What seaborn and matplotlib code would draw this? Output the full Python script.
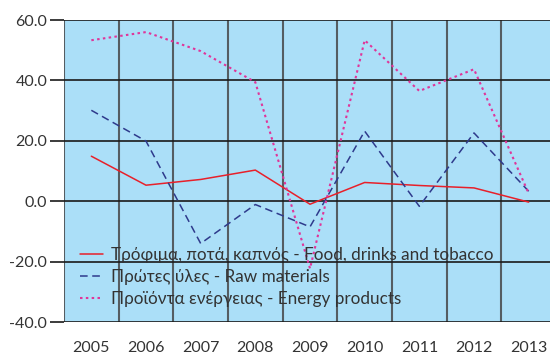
import matplotlib
matplotlib.use("Agg")
import matplotlib.pyplot as plt
import seaborn as sns
import pandas as pd
import numpy as np

years = ["2005", "2006", "2007", "2008", "2009", "2010", "2011", "2012", "2013"]
food = [14.9, 5.3, 7.2, 10.3, -1.0, 6.2, 5.2, 4.4, -0.3]
raw = [30.1, 19.9, -14.0, -1.1, -8.5, 23.2, -1.7, 22.6, 3.3]
energy = [53.3, 56.0, 49.7, 39.4, -22.3, 53.3, 36.5, 43.7, 2.6]

labels = [
    "Τρόφιμα, ποτά, καπνός - Food, drinks and tobacco",
    "Πρώτες ύλες - Raw materials",
    "Προϊόντα ενέργειας - Energy products",
]

sns.set_style("white")
plt.rcParams["font.family"] = ["Lato", "DejaVu Sans"]

fig = plt.figure(figsize=(5.5, 3.55), dpi=100)
ax = fig.add_axes([64 / 550, 1 - 322 / 355, 492 / 550, 302 / 355])
ax.set_facecolor("#abdff8")

x = np.arange(len(years))
series = [
    (food, "#e8202a", "-", 1.1),
    (raw, "#2e3a8c", (0, (5, 3)), 1.1),
    (energy, "#e0359a", (0, (1.2, 1.6)), 1.5),
]
for (vals, col, ls, lw), lab in zip(series, labels):
    sns.lineplot(x=x, y=vals, ax=ax, color=col, linestyle=ls, linewidth=lw, label=lab)

ax.set_xlim(-0.5, 8.5)
ax.set_ylim(-40, 60)
ax.set_yticks([-40, -20, 0, 20, 40, 60])
ax.set_yticklabels([f"{v:.1f}" for v in [-40, -20, 0, 20, 40, 60]])
ax.set_xticks(x)
ax.set_xticklabels(years)
ax.set_xticks(np.arange(-0.5, 9, 1), minor=True)

ax.grid(axis="y", which="major", color="#1a1a1a", linewidth=1.2)
ax.grid(axis="x", which="minor", color="#555d62", linewidth=1.5)
ax.set_axisbelow(True)
for s in ax.spines.values():
    s.set_visible(False)

ax.tick_params(axis="y", which="major", length=10, width=1.2, color="#1a1a1a",
               labelsize=11.5, labelcolor="#333333", pad=2, left=True)
ax.tick_params(axis="x", which="both", length=0, labelsize=11.5, labelcolor="#333333", pad=14)

leg = ax.legend(loc="lower left", bbox_to_anchor=(0.0325, 0.05), frameon=False,
                borderaxespad=0, borderpad=0,
                fontsize=12.3, handlelength=1.35, labelspacing=0.35, handletextpad=0.47,
                labelcolor="#333333")

fig.savefig("out.png", dpi=100)
